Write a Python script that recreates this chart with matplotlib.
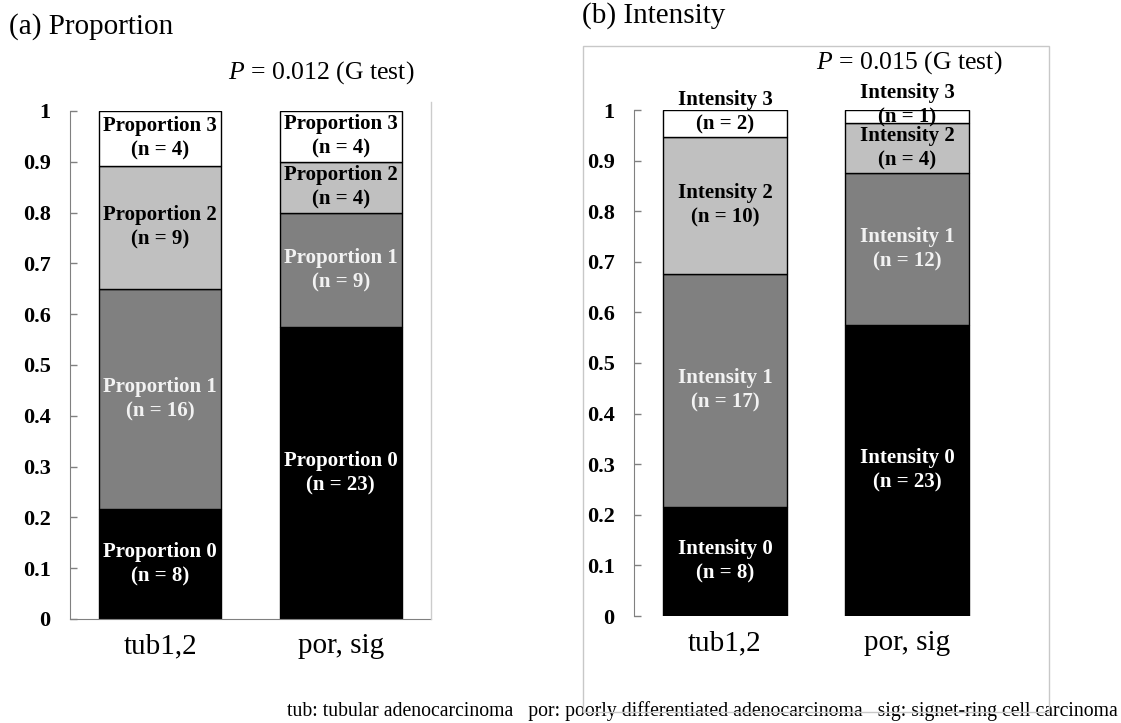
import matplotlib
matplotlib.use("Agg")
import matplotlib.pyplot as plt
import numpy as np
from matplotlib.patches import Rectangle
from matplotlib.lines import Line2D

plt.rcParams['font.family'] = ['Liberation Serif', 'DejaVu Serif']
plt.rcParams['mathtext.fontset'] = 'custom'
plt.rcParams['mathtext.it'] = 'Liberation Serif:italic'
plt.rcParams['mathtext.rm'] = 'Liberation Serif'

categories = ["tub1,2", "por, sig"]
prop_counts = {
    "Proportion 0": [8, 23],
    "Proportion 1": [16, 9],
    "Proportion 2": [9, 4],
    "Proportion 3": [4, 4],
}
int_counts = {
    "Intensity 0": [8, 23],
    "Intensity 1": [17, 12],
    "Intensity 2": [10, 4],
    "Intensity 3": [2, 1],
}
yticks = [0, 0.1, 0.2, 0.3, 0.4, 0.5, 0.6, 0.7, 0.8, 0.9, 1.0]
seg_colors = ["#000000", "#808080", "#c0c0c0", "#ffffff"]
txt_colors = ["white", "#f2f2f2", "black", "black"]

W, H = 1121, 723
fig = plt.figure(figsize=(W / 100, H / 100), dpi=100)


def fx(px):
    return px / W


def fy(py):
    return 1 - py / H


def draw_panel(ax, counts, width):
    x = np.arange(len(categories))
    totals = np.sum([v for v in counts.values()], axis=0)
    bottom = np.zeros(len(categories))
    for i, (name, vals) in enumerate(counts.items()):
        frac = np.array(vals) / totals
        ax.bar(x, frac, width, bottom=bottom, color=seg_colors[i],
               edgecolor="black", linewidth=1.0, zorder=2)
        for j in range(len(categories)):
            yc = bottom[j] + frac[j] / 2
            if frac[j] < 0.06:
                yc += 0.022  # small segment: label nudged upward as in the original
            ax.text(x[j], yc, f"{name}\n(n = {vals[j]})",
                    ha="center", va="center", color=txt_colors[i],
                    fontsize=15, fontweight="bold", linespacing=1.3, zorder=3)
        bottom += frac
    ax.set_xlim(-0.5, 1.5)
    ax.set_ylim(0, 1)
    ax.set_xticks(x)
    ax.set_xticklabels(categories, fontsize=21)
    ax.set_yticks(yticks)
    ax.set_yticklabels([f"{v:g}" for v in yticks], fontsize=16, fontweight="bold")
    ax.tick_params(axis="x", length=0, pad=10)
    ax.tick_params(axis="y", direction="in", length=5, width=1, color="#808080", pad=14)
    for s in ["top", "right"]:
        ax.spines[s].set_visible(False)
    ax.spines["left"].set_color("#808080")
    ax.spines["bottom"].set_color("#808080")


# Left panel
axL = fig.add_axes([fx(70), fy(619), fx(431) - fx(70), fy(111) - fy(619)])
draw_panel(axL, prop_counts, 0.678)
fig.add_artist(Line2D([fx(431), fx(431)], [fy(619), fy(102)], color="#cccccc", linewidth=1))

# Right panel
axR = fig.add_axes([fx(634), fy(616), fx(998) - fx(634), fy(110) - fy(616)])
draw_panel(axR, int_counts, 0.68)
axR.spines["bottom"].set_visible(False)
for t in axR.texts:
    t.set_clip_on(False)

# Box around right panel
fig.add_artist(Rectangle((fx(583), fy(712)), fx(1049) - fx(583), fy(46) - fy(712),
                         fill=False, edgecolor="#c8c8c8", linewidth=1, zorder=5))

# Titles
fig.text(fx(9), fy(27), "(a) Proportion", fontsize=21, va="center", ha="left")
fig.text(fx(582), fy(16), "(b) Intensity", fontsize=21, va="center", ha="left")
fig.text(fx(228), fy(73), r"$\mathit{P}$ = 0.012 (G test)", fontsize=18.5, va="center", ha="left")
fig.text(fx(816), fy(63), r"$\mathit{P}$ = 0.015 (G test)", fontsize=18.5, va="center", ha="left")

# Footnote
fig.text(fx(287), fy(711),
         "tub: tubular adenocarcinoma   por: poorly differentiated adenocarcinoma   sig: signet-ring cell carcinoma",
         fontsize=14.2, va="center", ha="left")

fig.savefig("out.png", dpi=100)
